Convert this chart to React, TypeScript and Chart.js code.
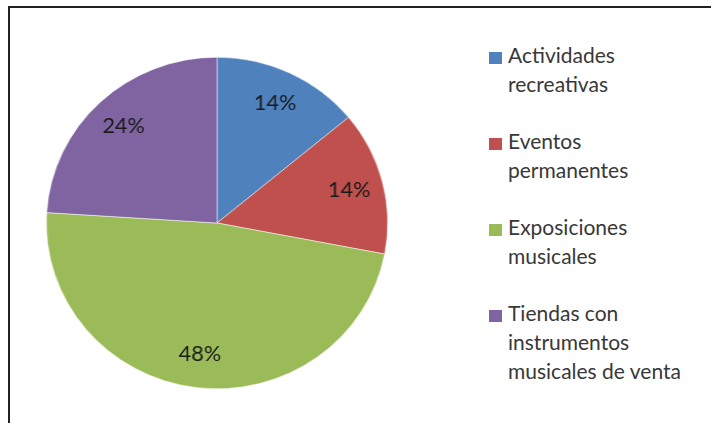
import React, { useEffect, useRef } from "react";
import { Chart, registerables } from "chart.js";

Chart.register(...registerables);

const categories: string[][] = [
  ["Actividades", "recreativas"],
  ["Eventos", "permanentes"],
  ["Exposiciones", "musicales"],
  ["Tiendas con", "instrumentos", "musicales de venta"],
];
const values: number[] = [14, 14, 48, 24];
const colors: string[] = ["#4F81BD", "#C0504D", "#9BBB59", "#8064A2"];

const FONT = "Lato, 'Open Sans', sans-serif";

const labelPlugin = {
  id: "pctLabels",
  afterDatasetsDraw(chart: any) {
    const ctx = chart.ctx;
    const meta = chart.getDatasetMeta(0);
    const data = chart.data.datasets[0].data as number[];
    const total = data.reduce((a, b) => a + b, 0);
    ctx.save();
    ctx.font = `21px ${FONT}`;
    ctx.fillStyle = "#1a1a1a";
    ctx.textAlign = "center";
    ctx.textBaseline = "middle";
    meta.data.forEach((arc: any, i: number) => {
      const p = arc.getProps(["x", "y", "startAngle", "endAngle", "outerRadius"], true);
      const mid = (p.startAngle + p.endAngle) / 2;
      const r = p.outerRadius * 0.8;
      const x = p.x + Math.cos(mid) * r;
      const y = p.y + Math.sin(mid) * r;
      ctx.fillText(Math.round((data[i] / total) * 100) + "%", x, y);
    });
    ctx.restore();
  },
};

export default function App() {
  const ref = useRef<HTMLCanvasElement | null>(null);
  useEffect(() => {
    if (!ref.current) return;
    const chart = new Chart(ref.current, {
      type: "pie",
      data: {
        labels: categories.map((c) => c.join(" ")),
        datasets: [
          {
            data: values,
            backgroundColor: colors,
            borderColor: "#ffffff",
            borderWidth: 0.5,
          },
        ],
      },
      options: {
        responsive: false,
        animation: false,
        layout: { padding: 3 },
        plugins: {
          legend: { display: false },
          tooltip: { enabled: false },
        },
      },
      plugins: [labelPlugin],
    });
    return () => chart.destroy();
  }, []);

  return (
    <div
      style={{
        position: "fixed",
        left: 0,
        top: 0,
        width: 711,
        height: 423,
        overflow: "hidden",
        background: "#ffffff",
      }}
    >
      <div
        style={{
          position: "absolute",
          left: 8,
          top: 6,
          width: 800,
          height: 500,
          borderLeft: "2px solid #222",
          borderTop: "2px solid #222",
        }}
      />
      <canvas
        ref={ref}
        width={338}
        height={338}
        style={{ position: "absolute", left: 43, top: 54, width: 348, height: 338 }}
      />
      <div style={{ position: "absolute", left: 489, top: 40, fontFamily: FONT, fontSize: 21, color: "#383838" }}>
        {categories.map((lines, i) => (
          <div key={i} style={{ display: "flex", alignItems: "flex-start", marginBottom: 28, lineHeight: "29px" }}>
            <div style={{ width: 13, height: 12, background: colors[i], marginTop: 12, marginRight: 6, flex: "none" }} />
            <div>
              {lines.map((l, j) => (
                <div key={j} style={{ whiteSpace: "nowrap" }}>{l}</div>
              ))}
            </div>
          </div>
        ))}
      </div>
    </div>
  );
}
